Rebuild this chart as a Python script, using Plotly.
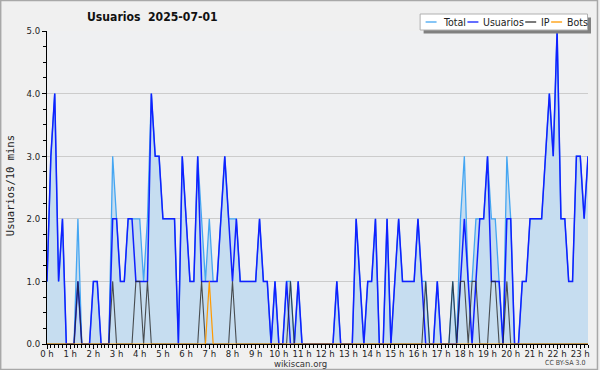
import plotly.graph_objects as go

# ---- data (10-minute slots from 00:00) ----
usuarios = [1, 3, 4, 1, 2, 0, 0, 0, 1, 0, 0, 0, 1, 1, 0, 0, 0, 2, 2, 1,
            1, 2, 2, 1, 1, 1, 1, 4, 3, 3, 2, 2, 2, 2, 0, 3, 2, 1, 1, 3,
            1, 1, 1, 1, 1, 2, 3, 2, 1, 2, 1, 1, 1, 1, 1, 2, 1, 1, 0, 1,
            0, 0, 1, 0, 0, 1, 0, 0, 0, 0, 0, 0, 0, 0, 0, 1, 0, 0, 0, 0,
            2, 1, 0, 1, 1, 2, 0, 0, 2, 0, 1, 2, 1, 1, 1, 1, 2, 1, 0, 0,
            0, 1, 0, 0, 0, 0, 0, 1, 2, 1, 0, 1, 2, 2, 3, 1, 1, 1, 0, 2,
            2, 0, 0, 1, 1, 2, 2, 2, 2, 3, 4, 3, 5, 2, 2, 1, 1, 3, 3, 2, 3]
ip = [0] * len(usuarios)
for k in [8, 17, 23, 24, 26, 40, 48, 63, 98, 105, 107, 108, 110, 111, 115, 116, 119]:
    ip[k] = 1
bots = [0] * len(usuarios)
bots[42] = 1
total = [u + i + b for u, i, b in zip(usuarios, ip, bots)]
hours = [k / 6 for k in range(len(usuarios))]

hour_ticks = list(range(24))
hour_labels = [f"{h} h" for h in hour_ticks]
y_ticks = [0, 1, 2, 3, 4, 5]
y_labels = [f"{v:.1f}" for v in y_ticks]

W, H = 600, 370
L, R, T, B = 47, 590, 31, 344

def px(x):
    return (x - L) / (R - L)

def py(y):
    return (B - y) / (B - T)

FONT = "DejaVu Sans Condensed, DejaVu Sans, sans-serif"

fig = go.Figure()
fig.add_trace(go.Scatter(x=hours, y=total, mode="lines", name="Total",
                         line=dict(color="#45a6f2", width=1.3),
                         fill="tozeroy", fillcolor="#c6ddf0"))
fig.add_trace(go.Scatter(x=hours, y=usuarios, mode="lines", name="Usuarios",
                         line=dict(color="#1020ff", width=1.5)))
fig.add_trace(go.Scatter(x=hours, y=ip, mode="lines", name="IP",
                         line=dict(color="rgba(40,40,40,0.8)", width=1.1)))
fig.add_trace(go.Scatter(x=hours, y=bots, mode="lines", name="Bots",
                         line=dict(color="#ff9a00", width=1.2)))

shapes = []
annotations = []
# outer frame
shapes.append(dict(type="rect", xref="paper", yref="paper",
                   x0=px(0.5), x1=px(599.5), y0=py(0.5), y1=py(369.5),
                   line=dict(color="#a8a8a8", width=1.5), layer="below"))
# legend box with shadow
shapes.append(dict(type="rect", xref="paper", yref="paper",
                   x0=px(425), x1=px(593), y0=py(17.5), y1=py(33.5),
                   fillcolor="#808080", line=dict(width=0), layer="above"))
shapes.append(dict(type="rect", xref="paper", yref="paper",
                   x0=px(421.5), x1=px(589.5), y0=py(14), y1=py(30),
                   fillcolor="white", line=dict(color="#b0b0b0", width=1), layer="above"))
legend_items = [("Total", "#45a6f2", 427, 442), ("Usuarios", "#1020ff", 469, 483),
                ("IP", "#333333", 527, 541), ("Bots", "#ff9a00", 553, 567)]
for name, col, lx, tx in legend_items:
    shapes.append(dict(type="line", xref="paper", yref="paper",
                       x0=px(lx), x1=px(lx + 11), y0=py(22), y1=py(22),
                       line=dict(color=col, width=1.3), layer="above"))
    annotations.append(dict(x=px(tx), y=py(22), xref="paper", yref="paper",
                            text=name, showarrow=False, xanchor="left", yanchor="middle",
                            font=dict(family=FONT, size=10.5, color="#222")))

annotations.append(dict(x=px(85), y=py(17), xref="paper", yref="paper",
                        text="<b>Usuarios&nbsp;&nbsp;2025-07-01</b>", showarrow=False,
                        xanchor="left", yanchor="middle",
                        font=dict(family=FONT, size=12.1, color="#111")))
annotations.append(dict(x=px(10), y=py(186), xref="paper", yref="paper",
                        text="Usuarios/10 mins", showarrow=False, textangle=-90,
                        xanchor="center", yanchor="middle",
                        font=dict(family="DejaVu Sans Mono, monospace", size=10.5, color="#222")))
annotations.append(dict(x=px(301), y=py(363), xref="paper", yref="paper",
                        text="wikiscan.org", showarrow=False, xanchor="center", yanchor="middle",
                        font=dict(family=FONT, size=9.5, color="#333")))
annotations.append(dict(x=px(589), y=py(363), xref="paper", yref="paper",
                        text="CC BY-SA 3.0", showarrow=False, xanchor="right", yanchor="middle",
                        font=dict(family=FONT, size=7, color="#444")))

fig.update_layout(
    width=W, height=H,
    margin=dict(l=L, r=W - R, t=T, b=H - B, pad=0),
    paper_bgcolor="#f0f0f0", plot_bgcolor="#eff0f2",
    showlegend=False,
    shapes=shapes, annotations=annotations,
    xaxis=dict(range=[0, hours[-1]], tickvals=hour_ticks, ticktext=hour_labels,
               showgrid=False, zeroline=False, showline=True, linecolor="black", linewidth=1,
               ticks="outside", ticklen=4, tickcolor="black", tickwidth=1,
               ticklabelstandoff=-3,
               tickfont=dict(family=FONT, size=9.5, color="#222"),
               minor=dict(dtick=1 / 6, tick0=0, ticks="outside", ticklen=3,
                          tickcolor="black", tickwidth=1, showgrid=False)),
    yaxis=dict(range=[0, 5], tickvals=y_ticks, ticktext=y_labels,
               showgrid=True, gridcolor="#cccccc", gridwidth=1, zeroline=False,
               showline=True, linecolor="black", linewidth=1,
               ticks="outside", ticklen=4, tickcolor="black", tickwidth=1,
               tickfont=dict(family=FONT, size=9.5, color="#222"),
               minor=dict(dtick=0.25, ticks="outside", ticklen=3,
                          tickcolor="black", tickwidth=1, showgrid=False)),
)

fig.write_html("out.html", config={"displayModeBar": False},
               post_script="document.body.style.margin='0';document.body.style.padding='0';")
